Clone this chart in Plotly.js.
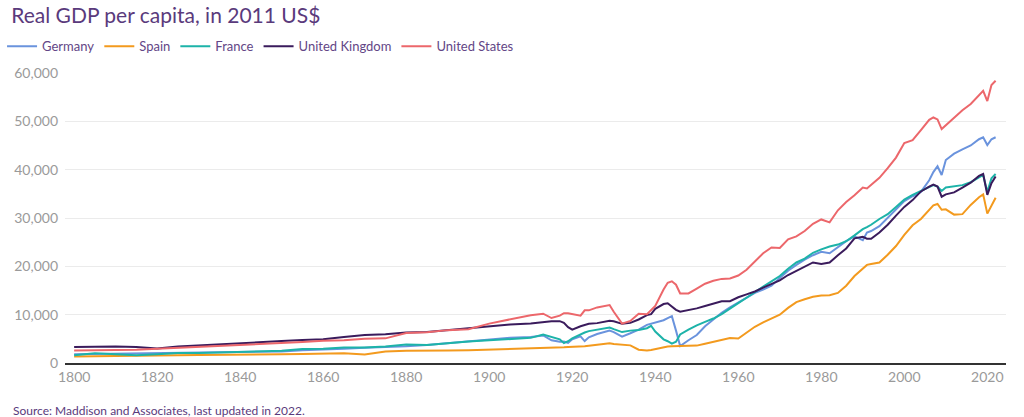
<!DOCTYPE html>
<html>
<head>
<meta charset="utf-8">
<script src="https://cdn.plot.ly/plotly-3.0.1.min.js"></script>
<style>
  html, body { margin: 0; padding: 0; background: #fff; }
  #chart { width: 1024px; height: 417px; }
</style>
</head>
<body>
<div id="chart"></div>
<script>
// values (2011 US$ per head)
var years = [1800, 1805, 1810, 1815, 1820, 1825, 1830, 1835, 1840, 1845, 1850, 1855, 1860, 1865, 1870,
  1875, 1880, 1885, 1890, 1895, 1900, 1905, 1910, 1913, 1915, 1917, 1918, 1919, 1920,
  1922, 1923, 1924, 1926, 1929, 1930, 1932, 1934, 1936, 1938, 1939, 1940,
  1942, 1943, 1944, 1945, 1946, 1948,
  1950, 1952, 1954, 1956, 1958, 1960, 1962, 1964, 1966, 1968, 1970, 1972, 1974, 1976, 1978, 1980, 1982, 1984, 1986, 1988,
  1990, 1991, 1992, 1994, 1996, 1998, 2000, 2002, 2004, 2006,
  2007, 2008, 2009, 2010, 2012, 2014, 2016, 2018, 2019, 2020, 2021, 2022];

var germany = [1790, 1850, 1790, 1900, 1920, 2050, 2060, 2200, 2270, 2270, 2400, 2650, 2750, 2960, 3150,
  3300, 3440, 3750, 4120, 4550, 4850, 5200, 5400, 5700, 4700, 4400, 4450, 4150, 4900,
  5500, 4530, 5300, 6000, 6700, 6400, 5450, 6150, 6900, 7900, 8150, 8450,
  8850, 9300, 9700, 6700, 3500, 4700,
  5800, 7600, 9100, 10400, 11500, 12500, 13500, 14500, 15200, 16000, 17600, 19100, 20300, 21400, 22300, 23000, 22700, 23900, 25200, 26200,
  25400, 27000, 27300, 28300, 30000, 31700, 33500, 34500, 35400, 37800,
  39500, 40700, 38900, 42000, 43300, 44200, 45000, 46300, 46700, 45100, 46300, 46700];

var spain = [1370, 1400, 1400, 1400, 1580, 1580, 1650, 1650, 1650, 1720, 1790, 1850, 1920, 2000, 1750,
  2400, 2550, 2500, 2600, 2650, 2750, 2900, 3000, 3100, 3150, 3200, 3250, 3300, 3300,
  3400, 3450, 3550, 3750, 4100, 3950, 3750, 3650, 2750, 2600, 2700, 2900,
  3150, 3400, 3450, 3450, 3500, 3500,
  3600, 4000, 4400, 4800, 5150, 5050, 6300, 7500, 8400, 9200, 10000, 11400, 12600, 13200, 13700, 13950, 14000, 14500, 16000, 18000,
  19500, 20300, 20500, 20800, 22400, 24200, 26500, 28500, 29800, 31700,
  32600, 32900, 31700, 31800, 30700, 30800, 32700, 34300, 34900, 30900, 32500, 34200];

var france = [1580, 2000, 1800, 1600, 1800, 2060, 2060, 2200, 2270, 2470, 2550, 2900, 2950, 3200, 3200,
  3400, 3850, 3700, 4100, 4450, 4700, 5000, 5200, 5900, 5400, 4900, 4100, 4500, 5100,
  6000, 6300, 6600, 6850, 7350, 7000, 6400, 6700, 6850, 7200, 7700, 6500,
  4900, 4500, 4000, 4400, 5900, 6900,
  7800, 8500, 9200, 10100, 11300, 12400, 13500, 14700, 15800, 16900, 18000, 19500, 20800, 21600, 22800, 23500, 24100, 24500, 25200, 26400,
  27700, 28100, 28600, 29800, 30800, 32300, 33800, 34800, 35600, 36500,
  36800, 36500, 35600, 36300, 36600, 36800, 37400, 38400, 38900, 35400, 38200, 39100];

var uk = [3300, 3400, 3400, 3300, 3000, 3400, 3600, 3900, 4100, 4350, 4550, 4780, 4900, 5400, 5800,
  5950, 6300, 6400, 6800, 7150, 7650, 7950, 8150, 8450, 8650, 8660, 8300, 7400, 6900,
  7600, 7900, 8100, 8250, 8750, 8650, 8100, 8300, 9000, 9900, 10100, 11200,
  12200, 12350, 11700, 11000, 10600, 10900,
  11300, 11800, 12350, 12780, 12800, 13600, 14200, 14800, 15600, 16300, 17100, 18200, 19100, 20000, 20800, 20500, 20800, 22300, 23700, 25800,
  26100, 25700, 25700, 27000, 28600, 30500, 32300, 33700, 35500, 36500,
  36900, 36500, 34400, 34900, 35300, 36300, 37300, 38700, 39100, 34800, 37200, 38600];

var us = [2600, 2650, 2650, 2750, 2950, 3150, 3200, 3450, 3750, 3850, 4050, 4330, 4600, 4700, 5000,
  5100, 6200, 6350, 6800, 7000, 8150, 9000, 9900, 10200, 9300, 9800, 10300, 10300, 10100,
  9800, 10900, 10900, 11500, 12000, 10600, 8150, 8700, 10200, 10100, 11000, 11800,
  15200, 16600, 16900, 16200, 14400, 14400,
  15400, 16400, 17000, 17400, 17500, 18100, 19300, 20900, 22700, 23900, 23800, 25600, 26200, 27300, 28800, 29700, 29100, 31600, 33300, 34700,
  36300, 36100, 36800, 38300, 40300, 42500, 45500, 46100, 48200, 50300,
  50800, 50400, 48400, 49200, 50600, 52300, 53600, 55500, 56300, 54200, 57500, 58400];

var names = ["Germany", "Spain", "France", "United Kingdom", "United States"];
var colors = ["#6a93dd", "#f39a1e", "#1db3a9", "#3a1b5c", "#ec676b"];
var series = [germany, spain, france, uk, us];

var textColor = "#5a3a7c";
var tickColor = "#9a9a9a";
var font = "Lato, 'Open Sans', sans-serif";

var data = [];
for (let i = 0; i < series.length; i++) {
    data.push({
        type: "scatter",
        mode: "lines",
        name: names[i],
        x: years,
        y: series[i],
        line: {color: colors[i], width: 2},
        hoverinfo: "x+y+name"
    });
}

var layout = {
    width: 1024,
    height: 417,
    margin: {l: 65, r: 18, t: 73, b: 54},
    paper_bgcolor: "#ffffff",
    plot_bgcolor: "#ffffff",
    font: {family: font, color: textColor},
    title: {
        text: "Real GDP per capita, in 2011 US$",
        font: {family: font, size: 21, color: textColor},
        xref: "container",
        x: 0.011,
        xanchor: "left",
        yref: "container",
        y: 0.962,
        yanchor: "middle"
    },
    showlegend: true,
    legend: {
        orientation: "h",
        xref: "container",
        yref: "container",
        x: 0.002,
        xanchor: "left",
        y: 0.925,
        yanchor: "top",
        font: {family: font, size: 13, color: "#634686"},
        itemwidth: 30,
        tracegroupgap: 0
    },
    xaxis: {
        range: [1797.8, 2024.5],
        tickmode: "array",
        tickvals: [1800, 1820, 1840, 1860, 1880, 1900, 1920, 1940, 1960, 1980, 2000, 2020],
        showgrid: false,
        zeroline: false,
        showline: true,
        linecolor: "#333333",
        linewidth: 1.5,
        ticks: "",
        tickfont: {family: font, size: 14, color: tickColor},
        fixedrange: true
    },
    yaxis: {
        range: [0, 60000],
        tickvals: [0, 10000, 20000, 30000, 40000, 50000, 60000],
        tickformat: ",d",
        showgrid: true,
        gridcolor: "#ebebeb",
        gridwidth: 1,
        zeroline: false,
        showline: false,
        ticks: "",
        ticklabelstandoff: 6,
        tickfont: {family: font, size: 14, color: tickColor},
        fixedrange: true
    },
    annotations: [{
        text: "Source: Maddison and Associates, last updated in 2022.",
        xref: "paper",
        yref: "paper",
        x: -0.0574,
        xanchor: "left",
        y: -0.163,
        yanchor: "middle",
        showarrow: false,
        font: {family: font, size: 12, color: textColor}
    }]
};

Plotly.newPlot("chart", data, layout, {displayModeBar: false, responsive: false});
</script>
</body>
</html>
